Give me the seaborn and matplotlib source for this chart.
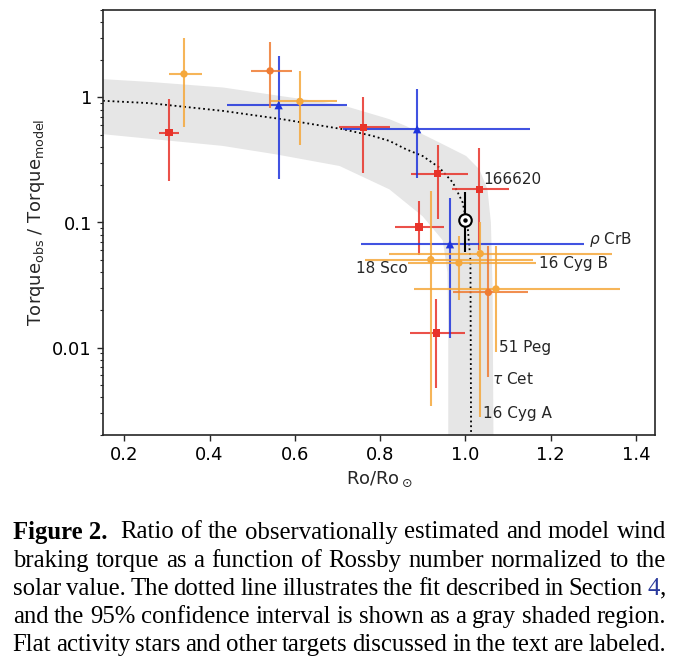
import numpy as np
import pandas as pd
import matplotlib
matplotlib.use('Agg')
import matplotlib.pyplot as plt
import seaborn as sns

# ---- data (Ro/Ro_sun, torque ratio) ----
# red squares
red_ro = [0.305, 0.761, 0.935, 1.033, 0.892, 0.932]
red_ro_lo = [0.282, 0.703, 0.873, 0.968, 0.836, 0.871]
red_ro_hi = [0.329, 0.823, 1.007, 1.103, 0.949, 1.000]
red_tq = [0.524, 0.575, 0.246, 0.184, 0.0924, 0.0131]
red_tq_lo = [0.214, 0.25, 0.107, 0.06, 0.0554, 0.00478]
red_tq_hi = [0.98, 1.0, 0.414, 0.397, 0.148, 0.0244]

# blue triangles
blue_ro = [0.562, 0.887, 0.964]
blue_ro_lo = [0.440, 0.713, 0.756]
blue_ro_hi = [0.722, 1.152, 1.279]
blue_tq = [0.867, 0.557, 0.067]
blue_tq_lo = [0.221, 0.228, 0.0119]
blue_tq_hi = [2.16, 1.16, 0.158]

# light orange circles
lor_ro = [0.340, 0.612, 0.919, 0.985, 1.035, 1.072]
lor_ro_lo = [0.305, 0.545, 0.764, 0.865, 0.822, 0.879]
lor_ro_hi = [0.383, 0.700, 1.158, 1.166, 1.344, 1.362]
lor_tq = [1.54, 0.929, 0.0505, 0.0475, 0.0564, 0.0294]
lor_tq_lo = [0.585, 0.42, 0.0034, 0.0238, 0.0028, 0.0093]
lor_tq_hi = [2.97, 1.63, 0.178, 0.0776, 0.10, 0.0646]

# dark orange circles
dor_ro = [0.542, 1.054]
dor_ro_lo = [0.497, 0.972]
dor_ro_hi = [0.593, 1.148]
dor_tq = [1.63, 0.0276]
dor_tq_lo = [0.816, 0.00585]
dor_tq_hi = [2.79, 0.065]

# the Sun
sun_ro = [1.0]
sun_tq = [0.104]
sun_tq_lo = [0.058]
sun_tq_hi = [0.175]

# fit (dotted) and 95% band edges
fit_ro = [0.15, 0.26, 0.432, 0.57, 0.713, 0.783, 0.822, 0.861, 0.900, 0.939, 0.971,
          0.994, 1.006, 1.012, 1.0135]
fit_tq = [0.94, 0.90, 0.78, 0.67, 0.557, 0.492, 0.449, 0.385, 0.34, 0.275, 0.208,
          0.144, 0.088, 0.05, 0.002]
band_hi_ro = [0.15, 0.26, 0.432, 0.572, 0.705, 0.822, 0.861, 0.939, 1.002, 1.033, 1.052, 1.060, 1.064, 1.066]
band_hi_tq = [1.40, 1.33, 1.20, 1.02, 0.88, 0.67, 0.59, 0.436, 0.34, 0.266, 0.184, 0.10, 0.03, 0.002]
band_lo_ro = [0.15, 0.43, 0.557, 0.705, 0.822, 0.900, 0.947, 0.958, 0.960, 0.960]
band_lo_tq = [0.508, 0.41, 0.35, 0.283, 0.184, 0.112, 0.072, 0.04, 0.015, 0.002]

# star labels
label_names = ['166620', r'$\rho$ CrB', '16 Cyg B', '18 Sco', '51 Peg', r'$\tau$ Cet', '16 Cyg A']
label_ro = [1.042, 1.290, 1.172, 0.744, 1.080, 1.063, 1.042]
label_tq = [0.221, 0.073, 0.0469, 0.0425, 0.0101, 0.0056, 0.00298]

caption_lines = [
    "Figure 2.  Ratio of the observationally estimated and model wind",
    "braking torque as a function of Rossby number normalized to the",
    "solar value. The dotted line illustrates the fit described in Section 4,",
    "and the 95% confidence interval is shown as a gray shaded region.",
    "Flat activity stars and other targets discussed in the text are labeled.",
]

sns.set_style('ticks')
plt.rcParams['font.family'] = ['DejaVu Sans']
plt.rcParams['mathtext.fontset'] = 'dejavusans'

W, H = 680, 663
fig = plt.figure(figsize=(W / 100, H / 100), dpi=100)
ax = fig.add_axes([103 / W, 1 - 435 / H, 552 / W, 425 / H])
ax.set_yscale('log')

# gray confidence band as a closed polygon
ax.fill(np.r_[band_hi_ro, band_lo_ro[::-1]], np.r_[band_hi_tq, band_lo_tq[::-1]],
        color='#e6e6e6', lw=0, zorder=0)

sns.lineplot(x=fit_ro, y=fit_tq, sort=False, ax=ax, color='k', linestyle=':',
             lw=1.3, zorder=2)

groups = [
    ('red', '#e8332a', 's', 30, red_ro, red_ro_lo, red_ro_hi, red_tq, red_tq_lo, red_tq_hi),
    ('blue', '#1f35dc', '^', 36, blue_ro, blue_ro_lo, blue_ro_hi, blue_tq, blue_tq_lo, blue_tq_hi),
    ('lorange', '#f5a83c', 'o', 28, lor_ro, lor_ro_lo, lor_ro_hi, lor_tq, lor_tq_lo, lor_tq_hi),
    ('dorange', '#ef7b33', 'o', 28, dor_ro, dor_ro_lo, dor_ro_hi, dor_tq, dor_tq_lo, dor_tq_hi),
]

for name, col, mk, s, ro, ro_lo, ro_hi, tq, tq_lo, tq_hi in groups:
    ro, tq = np.array(ro), np.array(tq)
    xerr = [ro - np.array(ro_lo), np.array(ro_hi) - ro]
    yerr = [tq - np.array(tq_lo), np.array(tq_hi) - tq]
    ax.errorbar(ro, tq, xerr=xerr, yerr=yerr, fmt='none', ecolor=col,
                elinewidth=1.5, alpha=0.85, zorder=3)
    df = pd.DataFrame({'ro': ro, 'tq': tq})
    sns.scatterplot(data=df, x='ro', y='tq', ax=ax, marker=mk, s=s, color=col,
                    edgecolor='none', zorder=4, legend=False)

# the Sun
sun_ro_a, sun_tq_a = np.array(sun_ro), np.array(sun_tq)
ax.errorbar(sun_ro_a, sun_tq_a,
            yerr=[sun_tq_a - np.array(sun_tq_lo), np.array(sun_tq_hi) - sun_tq_a],
            fmt='none', ecolor='k', elinewidth=1.5, zorder=5)
ax.plot(sun_ro, sun_tq, marker='o', ms=9, mfc='white', mec='k', mew=1.5, ls='none', zorder=6)
ax.plot(sun_ro, sun_tq, marker='o', ms=2.2, color='k', ls='none', zorder=7)

for txt, x, y in zip(label_names, label_ro, label_tq):
    ax.text(x, y, txt, fontsize=11, ha='left', va='center', zorder=8)

ax.set_xlim(0.15, 1.445)
ax.set_ylim(0.002, 5.0)
ax.set_xticks([0.2, 0.4, 0.6, 0.8, 1.0, 1.2, 1.4])
ax.set_yticks([0.01, 0.1, 1], labels=['0.01', '0.1', '1'])
ax.yaxis.set_minor_formatter(matplotlib.ticker.NullFormatter())
ax.tick_params(which='major', labelsize=13, length=4.5, width=1, colors='0.15')
ax.tick_params(which='minor', length=2.5, width=0.8, colors='0.15')
ax.tick_params(labelcolor='k')
for sp in ax.spines.values():
    sp.set_color('0.15')
    sp.set_linewidth(1.2)
ax.set_xlabel(r'Ro/Ro$_\odot$', fontsize=13)
ax.set_ylabel(r'Torque$_{\mathrm{obs}}$ / Torque$_{\mathrm{model}}$', fontsize=13)

# ---- justified caption below the plot ----
renderer = fig.canvas.get_renderer()
serif = 'Liberation Serif'
left_px, right_px = 12.7, 666.0
baselines = [538.5, 566.7, 594.9, 623.1, 651.3]

probe = fig.text(0, 0, caption_lines[4], fontsize=10, family=serif)
fs = 10.3 * (right_px - left_px - 2) / probe.get_window_extent(renderer).width
probe.remove()

for i, line in enumerate(caption_lines):
    words = line.split()
    if i == 0:
        words = ['Figure 2.'] + words[2:]
    pieces = []
    for wd in words:
        segs = []
        if wd == 'Figure 2.':
            segs.append((wd, dict(weight='bold', color='k')))
        elif wd == '4,':
            segs.append(('4', dict(color='#2a3a9c')))
            segs.append((',', dict(color='k')))
        else:
            segs.append((wd, dict(color='k')))
        arts = []
        for s_txt, kw in segs:
            t = fig.text(0, 1 - baselines[i] / H, s_txt, fontsize=fs, family=serif,
                         va='baseline', ha='left', **kw)
            arts.append((t, t.get_window_extent(renderer).width))
        pieces.append(arts)
    total = sum(w for arts in pieces for _, w in arts)
    weights = [2.0 if (i == 0 and k == 0) else 1.0 for k in range(len(pieces) - 1)]
    unit = (right_px - left_px - total) / sum(weights)
    x = left_px
    for k, arts in enumerate(pieces):
        for t, w in arts:
            t.set_x(x / W)
            x += w
        if k < len(weights):
            x += unit * weights[k]

fig.savefig('out.png', dpi=100)
